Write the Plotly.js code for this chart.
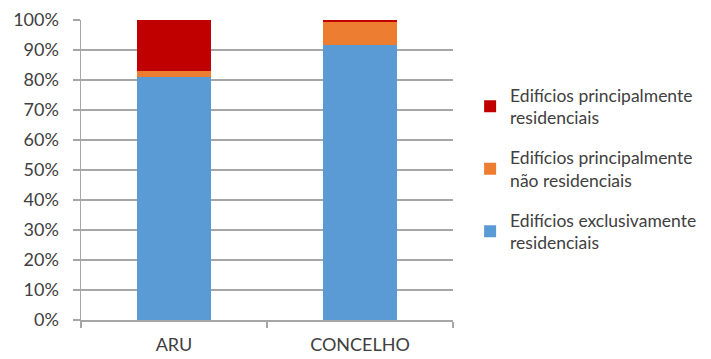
<!DOCTYPE html>
<html>
<head>
<meta charset="utf-8">
<script src="https://cdn.plot.ly/plotly-3.0.1.min.js"></script>
<style>
  html, body { margin: 0; padding: 0; background: #fff; }
  #chart { width: 711px; height: 359px; }
</style>
</head>
<body>
<div id="chart"></div>
<script>
// Share of buildings by use type (%), per area
const categories = ['ARU', 'CONCELHO'];
const exclusivamenteResidenciais = [80.9, 91.7];
const principalmenteNaoResidenciais = [2.1, 7.6];
const principalmenteResidenciais = [17.0, 0.7];

const seriesNames = [
  'Edifícios exclusivamente<br>residenciais',
  'Edifícios principalmente<br>não residenciais',
  'Edifícios principalmente<br>residenciais'
];
const yTickValues = [0, 10, 20, 30, 40, 50, 60, 70, 80, 90, 100];
const yTickLabels = ['0%', '10%', '20%', '30%', '40%', '50%', '60%', '70%', '80%', '90%', '100%'];

const colors = ['#5B9BD5', '#ED7D31', '#C00000'];
const seriesValues = [exclusivamenteResidenciais, principalmenteNaoResidenciais, principalmenteResidenciais];

// Bottom segment first in the stack; the legend lists the top segment first.
const traces = seriesValues.map((vals, i) => ({
  type: 'bar',
  x: categories,
  y: vals,
  name: seriesNames[i],
  legendgroup: 'g' + i,
  legendrank: 1000 - i,
  marker: { color: colors[i], line: { width: 0 } },
  hoverinfo: 'x+y+name'
}));

const fontFamily = 'Lato, "Open Sans", sans-serif';
const textColor = '#404040';
const axisGray = '#A6A6A6';

const layout = {
  width: 711,
  height: 359,
  margin: { l: 81, r: 258, t: 20, b: 39, autoexpand: false },
  barmode: 'stack',
  bargap: 0.6,
  paper_bgcolor: '#ffffff',
  plot_bgcolor: '#ffffff',
  font: { family: fontFamily, size: 18, color: textColor },
  showlegend: true,
  legend: {
    x: 1.046, xanchor: 'left',
    y: 0.81, yanchor: 'top',
    traceorder: 'grouped',
    tracegroupgap: 14,
    font: { family: fontFamily, size: 17.5, color: textColor },
    itemwidth: 30,
    bgcolor: 'rgba(0,0,0,0)'
  },
  xaxis: {
    type: 'category',
    showline: true,
    linecolor: axisGray,
    linewidth: 1.5,
    ticks: 'outside',
    tickson: 'boundaries',
    ticklen: 6,
    tickcolor: axisGray,
    tickwidth: 1.5,
    ticklabelstandoff: 8,
    tickfont: { family: fontFamily, size: 18, color: textColor },
    showgrid: false,
    zeroline: false
  },
  yaxis: {
    range: [0, 100],
    tickvals: yTickValues,
    ticktext: yTickLabels,
    showline: true,
    linecolor: axisGray,
    linewidth: 1.5,
    ticks: 'outside',
    ticklen: 7,
    tickcolor: axisGray,
    tickwidth: 1.5,
    ticklabelstandoff: 10,
    showgrid: true,
    gridcolor: axisGray,
    gridwidth: 1.5,
    zeroline: false,
    tickfont: { family: fontFamily, size: 18, color: textColor }
  }
};

Plotly.newPlot('chart', traces, layout, { displayModeBar: false, staticPlot: true });
</script>
</body>
</html>
